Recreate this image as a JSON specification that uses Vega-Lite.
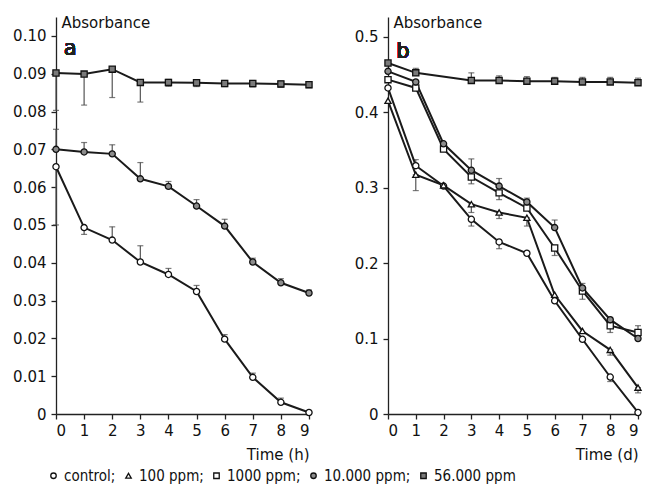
{
  "$schema": "https://vega.github.io/schema/vega-lite/v6.json",
  "background": "white",
  "padding": {"left": 12, "top": 15, "right": 4, "bottom": 0},
  "datasets": {
    "a": [
      {"s": "control", "t": 0, "A": 0.0654, "lo": 0.050, "hi": 0.0654},
      {"s": "control", "t": 1, "A": 0.0493, "lo": 0.0475, "hi": 0.0493},
      {"s": "control", "t": 2, "A": 0.0460, "lo": 0.0460, "hi": 0.0495},
      {"s": "control", "t": 3, "A": 0.0402, "lo": 0.0402, "hi": 0.0445},
      {"s": "control", "t": 4, "A": 0.0369, "lo": 0.0369, "hi": 0.0385},
      {"s": "control", "t": 5, "A": 0.0324, "lo": 0.0324, "hi": 0.0340},
      {"s": "control", "t": 6, "A": 0.0198, "lo": 0.0198, "hi": 0.0210},
      {"s": "control", "t": 7, "A": 0.0097, "lo": 0.0097, "hi": 0.0108},
      {"s": "control", "t": 8, "A": 0.0031, "lo": 0.0031, "hi": 0.0042},
      {"s": "control", "t": 9, "A": 0.0004},
      {"s": "10.000 ppm", "t": 0, "A": 0.0700, "lo": 0.0700, "hi": 0.0753},
      {"s": "10.000 ppm", "t": 1, "A": 0.0693, "lo": 0.0693, "hi": 0.0718},
      {"s": "10.000 ppm", "t": 2, "A": 0.0688, "lo": 0.0688, "hi": 0.0712},
      {"s": "10.000 ppm", "t": 3, "A": 0.0622, "lo": 0.0622, "hi": 0.0665},
      {"s": "10.000 ppm", "t": 4, "A": 0.0602, "lo": 0.0602, "hi": 0.0615},
      {"s": "10.000 ppm", "t": 5, "A": 0.0550, "lo": 0.0550, "hi": 0.0567},
      {"s": "10.000 ppm", "t": 6, "A": 0.0497, "lo": 0.0497, "hi": 0.0515},
      {"s": "10.000 ppm", "t": 7, "A": 0.0402, "lo": 0.0402, "hi": 0.0412},
      {"s": "10.000 ppm", "t": 8, "A": 0.0347, "lo": 0.0347, "hi": 0.0358},
      {"s": "10.000 ppm", "t": 9, "A": 0.0320, "lo": 0.0320, "hi": 0.0328},
      {"s": "56.000 ppm", "t": 0, "A": 0.0902, "lo": 0.0803, "hi": 0.0902},
      {"s": "56.000 ppm", "t": 1, "A": 0.0899, "lo": 0.0817, "hi": 0.0899},
      {"s": "56.000 ppm", "t": 2, "A": 0.0912, "lo": 0.0837, "hi": 0.0912},
      {"s": "56.000 ppm", "t": 3, "A": 0.0877, "lo": 0.0825, "hi": 0.0877},
      {"s": "56.000 ppm", "t": 4, "A": 0.0877, "lo": 0.0867, "hi": 0.0885},
      {"s": "56.000 ppm", "t": 5, "A": 0.0876, "lo": 0.0866, "hi": 0.0884},
      {"s": "56.000 ppm", "t": 6, "A": 0.0874, "lo": 0.0866, "hi": 0.0882},
      {"s": "56.000 ppm", "t": 7, "A": 0.0874, "lo": 0.0865, "hi": 0.0882},
      {"s": "56.000 ppm", "t": 8, "A": 0.0873, "lo": 0.0864, "hi": 0.0881},
      {"s": "56.000 ppm", "t": 9, "A": 0.0871, "lo": 0.0863, "hi": 0.0878}
    ],
    "b": [
      {"s": "control", "t": 0, "A": 0.432},
      {"s": "control", "t": 1, "A": 0.329, "lo": 0.329, "hi": 0.337},
      {"s": "control", "t": 2, "A": 0.302},
      {"s": "control", "t": 3, "A": 0.258, "lo": 0.249, "hi": 0.258},
      {"s": "control", "t": 4, "A": 0.228, "lo": 0.219, "hi": 0.228},
      {"s": "control", "t": 5, "A": 0.213},
      {"s": "control", "t": 6, "A": 0.150},
      {"s": "control", "t": 7, "A": 0.099},
      {"s": "control", "t": 8, "A": 0.049, "lo": 0.043, "hi": 0.049},
      {"s": "control", "t": 9, "A": 0.002},
      {"s": "100 ppm", "t": 0, "A": 0.415},
      {"s": "100 ppm", "t": 1, "A": 0.317, "lo": 0.296, "hi": 0.317},
      {"s": "100 ppm", "t": 2, "A": 0.303},
      {"s": "100 ppm", "t": 3, "A": 0.278, "lo": 0.267, "hi": 0.278},
      {"s": "100 ppm", "t": 4, "A": 0.267, "lo": 0.259, "hi": 0.267},
      {"s": "100 ppm", "t": 5, "A": 0.260, "lo": 0.249, "hi": 0.260},
      {"s": "100 ppm", "t": 6, "A": 0.158},
      {"s": "100 ppm", "t": 7, "A": 0.110},
      {"s": "100 ppm", "t": 8, "A": 0.085, "lo": 0.078, "hi": 0.085},
      {"s": "100 ppm", "t": 9, "A": 0.035, "lo": 0.028, "hi": 0.035},
      {"s": "1000 ppm", "t": 0, "A": 0.443},
      {"s": "1000 ppm", "t": 1, "A": 0.432},
      {"s": "1000 ppm", "t": 2, "A": 0.351},
      {"s": "1000 ppm", "t": 3, "A": 0.314, "lo": 0.305, "hi": 0.314},
      {"s": "1000 ppm", "t": 4, "A": 0.293, "lo": 0.284, "hi": 0.293},
      {"s": "1000 ppm", "t": 5, "A": 0.273},
      {"s": "1000 ppm", "t": 6, "A": 0.220, "lo": 0.210, "hi": 0.220},
      {"s": "1000 ppm", "t": 7, "A": 0.163, "lo": 0.152, "hi": 0.163},
      {"s": "1000 ppm", "t": 8, "A": 0.117, "lo": 0.108, "hi": 0.117},
      {"s": "1000 ppm", "t": 9, "A": 0.108, "lo": 0.108, "hi": 0.117},
      {"s": "10.000 ppm", "t": 0, "A": 0.454},
      {"s": "10.000 ppm", "t": 1, "A": 0.440},
      {"s": "10.000 ppm", "t": 2, "A": 0.358},
      {"s": "10.000 ppm", "t": 3, "A": 0.323, "lo": 0.323, "hi": 0.338},
      {"s": "10.000 ppm", "t": 4, "A": 0.302, "lo": 0.302, "hi": 0.312},
      {"s": "10.000 ppm", "t": 5, "A": 0.281, "lo": 0.281, "hi": 0.286},
      {"s": "10.000 ppm", "t": 6, "A": 0.247, "lo": 0.247, "hi": 0.257},
      {"s": "10.000 ppm", "t": 7, "A": 0.167, "lo": 0.167, "hi": 0.173},
      {"s": "10.000 ppm", "t": 8, "A": 0.125, "lo": 0.125, "hi": 0.128},
      {"s": "10.000 ppm", "t": 9, "A": 0.100},
      {"s": "56.000 ppm", "t": 0, "A": 0.465},
      {"s": "56.000 ppm", "t": 1, "A": 0.452, "lo": 0.452, "hi": 0.458},
      {"s": "56.000 ppm", "t": 3, "A": 0.442, "lo": 0.442, "hi": 0.452},
      {"s": "56.000 ppm", "t": 4, "A": 0.442, "lo": 0.442, "hi": 0.448},
      {"s": "56.000 ppm", "t": 5, "A": 0.441, "lo": 0.441, "hi": 0.447},
      {"s": "56.000 ppm", "t": 6, "A": 0.441, "lo": 0.441, "hi": 0.446},
      {"s": "56.000 ppm", "t": 7, "A": 0.440, "lo": 0.440, "hi": 0.446},
      {"s": "56.000 ppm", "t": 8, "A": 0.440, "lo": 0.440, "hi": 0.446},
      {"s": "56.000 ppm", "t": 9, "A": 0.439, "lo": 0.439, "hi": 0.445}
    ]
  },
  "spacing": 39,
  "hconcat": [
    {
      "width": 253,
      "height": 397,
      "data": {"name": "a"},
      "encoding": {
        "x": {"field": "t", "type": "quantitative", "scale": {"domain": [0, 9], "nice": false},
          "axis": {"values": [0,1,2,3,4,5,6,7,8,9], "title": "Time (h)"}},
        "y": {"field": "A", "type": "quantitative", "scale": {"domain": [0, 0.105], "nice": false},
          "axis": {"values": [0,0.01,0.02,0.03,0.04,0.05,0.06,0.07,0.08,0.09,0.1], "title": "Absorbance",
            "labelExpr": "datum.value == 0 ? '0' : format(datum.value, '.2f')"}}
      },
      "layer": [
        {"transform": [{"filter": "isValid(datum.lo)"}], "mark": {"type": "rule", "color": "#555", "strokeWidth": 1.2},
          "encoding": {"y": {"field": "lo", "type": "quantitative"}, "y2": {"field": "hi"}}},
        {"transform": [{"filter": "isValid(datum.hi)"}], "mark": {"type": "tick", "orient": "horizontal", "color": "#444", "size": 6, "thickness": 1.2},
          "encoding": {"y": {"field": "hi", "type": "quantitative"}}},
        {"transform": [{"filter": "isValid(datum.lo)"}], "mark": {"type": "tick", "orient": "horizontal", "color": "#444", "size": 6, "thickness": 1.2},
          "encoding": {"y": {"field": "lo", "type": "quantitative"}}},
        {"mark": {"type": "line", "color": "#1a1a1a", "strokeWidth": 2}, "encoding": {"detail": {"field": "s"}}},
        {"mark": {"type": "point", "filled": false, "strokeWidth": 1.3, "size": 38, "opacity": 1},
          "encoding": {
            "shape": {"field": "s", "scale": {"domain": ["control", "100 ppm", "1000 ppm", "10.000 ppm", "56.000 ppm"], "range": ["circle", "triangle-up", "square", "circle", "square"]},
              "legend": {"labelExpr": "datum.label + (datum.label == '56.000 ppm' ? '' : ';')"}},
            "fill": {"field": "s", "scale": {"domain": ["control", "100 ppm", "1000 ppm", "10.000 ppm", "56.000 ppm"], "range": ["white", "white", "white", "#8c8c8c", "#7a7a7a"]},
              "legend": {"labelExpr": "datum.label + (datum.label == '56.000 ppm' ? '' : ';')"}},
            "stroke": {"field": "s", "scale": {"domain": ["control", "100 ppm", "1000 ppm", "10.000 ppm", "56.000 ppm"], "range": ["#111", "#111", "#111", "#111", "#111"]},
              "legend": {"labelExpr": "datum.label + (datum.label == '56.000 ppm' ? '' : ';')"}}}},
        {"mark": {"type": "text", "text": "a", "fontSize": 21, "fontWeight": "normal", "align": "left", "baseline": "middle", "color": "#222"},
          "encoding": {"x": {"datum": 0.28}, "y": {"datum": 0.0966}}}
      ]
    },
    {
      "width": 250,
      "height": 397,
      "data": {"name": "b"},
      "encoding": {
        "x": {"field": "t", "type": "quantitative", "scale": {"domain": [0, 9], "nice": false},
          "axis": {"values": [0,1,2,3,4,5,6,7,8,9], "title": "Time (d)"}},
        "y": {"field": "A", "type": "quantitative", "scale": {"domain": [0, 0.526], "nice": false},
          "axis": {"values": [0,0.1,0.2,0.3,0.4,0.5], "title": "Absorbance",
            "labelExpr": "datum.value == 0 ? '0' : format(datum.value, '.1f')"}}
      },
      "layer": [
        {"transform": [{"filter": "isValid(datum.lo)"}], "mark": {"type": "rule", "color": "#555", "strokeWidth": 1.2},
          "encoding": {"y": {"field": "lo", "type": "quantitative"}, "y2": {"field": "hi"}}},
        {"transform": [{"filter": "isValid(datum.hi)"}], "mark": {"type": "tick", "orient": "horizontal", "color": "#444", "size": 6, "thickness": 1.2},
          "encoding": {"y": {"field": "hi", "type": "quantitative"}}},
        {"transform": [{"filter": "isValid(datum.lo)"}], "mark": {"type": "tick", "orient": "horizontal", "color": "#444", "size": 6, "thickness": 1.2},
          "encoding": {"y": {"field": "lo", "type": "quantitative"}}},
        {"mark": {"type": "line", "color": "#1a1a1a", "strokeWidth": 2}, "encoding": {"detail": {"field": "s"}}},
        {"mark": {"type": "point", "filled": false, "strokeWidth": 1.3, "size": 38, "opacity": 1},
          "encoding": {
            "shape": {"field": "s", "scale": {"domain": ["control", "100 ppm", "1000 ppm", "10.000 ppm", "56.000 ppm"], "range": ["circle", "triangle-up", "square", "circle", "square"]},
              "legend": {"labelExpr": "datum.label + (datum.label == '56.000 ppm' ? '' : ';')"}},
            "fill": {"field": "s", "scale": {"domain": ["control", "100 ppm", "1000 ppm", "10.000 ppm", "56.000 ppm"], "range": ["white", "white", "white", "#8c8c8c", "#7a7a7a"]},
              "legend": {"labelExpr": "datum.label + (datum.label == '56.000 ppm' ? '' : ';')"}},
            "stroke": {"field": "s", "scale": {"domain": ["control", "100 ppm", "1000 ppm", "10.000 ppm", "56.000 ppm"], "range": ["#111", "#111", "#111", "#111", "#111"]},
              "legend": {"labelExpr": "datum.label + (datum.label == '56.000 ppm' ? '' : ';')"}}}},
        {"mark": {"type": "text", "text": "b", "fontSize": 21, "fontWeight": "normal", "align": "left", "baseline": "middle", "color": "#222"},
          "encoding": {"x": {"datum": 0.3}, "y": {"datum": 0.48}}}
      ]
    }
  ],
  "resolve": {"scale": {"shape": "shared", "fill": "shared", "stroke": "shared"}},
  "config": {
    "font": "DejaVu Sans",
    "view": {"stroke": null},
    "axis": {
      "grid": false, "domainColor": "#222", "tickColor": "#222", "domainWidth": 1.3, "tickWidth": 1.3,
      "tickSize": 5, "labelFontSize": 15, "labelColor": "#111", "labelPadding": 5,
      "titleFontSize": 15, "titleFontWeight": "normal", "titleColor": "#111"
    },
    "axisY": {"titleAngle": 0, "titleAlign": "left", "titleBaseline": "alphabetic", "titleX": 5, "titleY": 10},
    "axisX": {"titleAnchor": "end", "titleAlign": "right", "titlePadding": 9, "labelPadding": 4, "labelAngle": 0},
    "legend": {
      "orient": "none", "legendX": -10, "legendY": 451, "direction": "horizontal", "title": null,
      "labelFont": "DejaVu Sans Condensed", "labelFontSize": 15, "labelColor": "#111",
      "symbolSize": 30, "symbolStrokeWidth": 1.3, "columnPadding": 5, "labelOffset": 3
    }
  }
}
